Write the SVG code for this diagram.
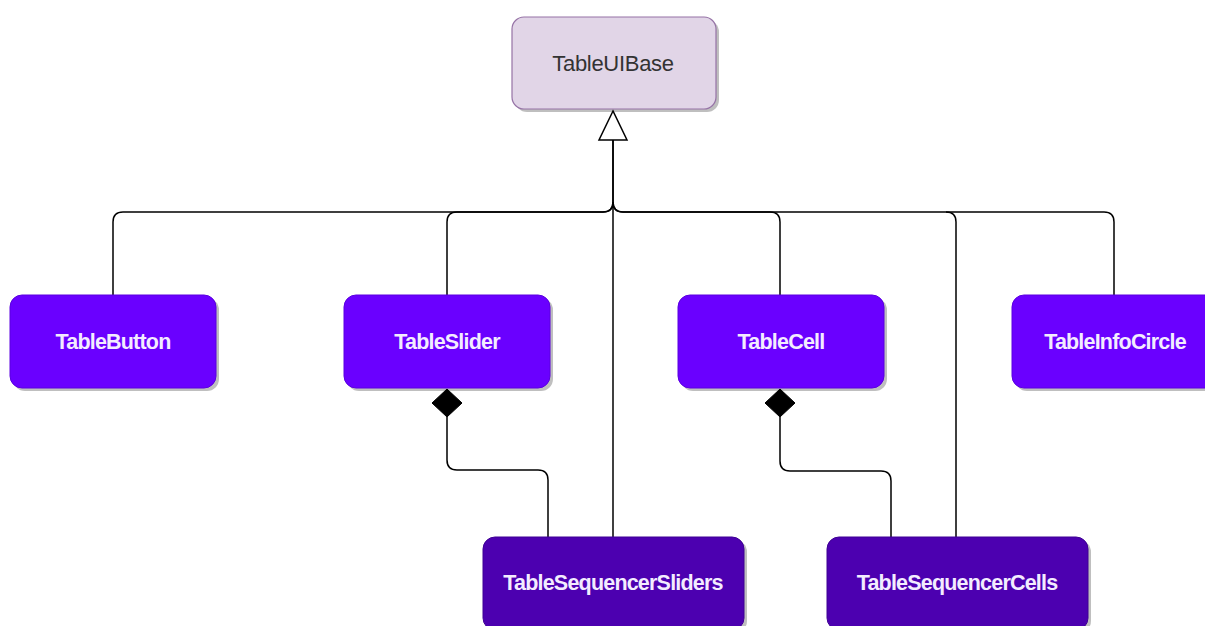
<svg xmlns="http://www.w3.org/2000/svg" width="1205" height="626" viewBox="0 0 1205 626">
<style>
.sh{fill:#000;opacity:0.25}
.base{fill:#e1d5e7;stroke:#9673a6;stroke-width:1.2}
.child{fill:#6a00ff;stroke:#5a00e0;stroke-width:1}
.seq{fill:#4c00b0;stroke:#3f0094;stroke-width:1}
.t{font-family:"Liberation Sans",Arial,sans-serif;text-anchor:middle;dominant-baseline:central}
.tw{fill:#f3ecff;font-weight:bold;font-size:21.5px;letter-spacing:-0.8px}
.tb{fill:#333333;font-size:22px;letter-spacing:-0.3px}
.e{fill:none;stroke:#000;stroke-width:1.5}
</style>
<g id="connectors">
<path class="e" d="M113 295 V222 Q113 212 123 212 H603 Q613 212 613 202 V140"/>
<path class="e" d="M447 295 V222 Q447 212 457 212 H603 Q613 212 613 202"/>
<path class="e" d="M780 295 V222 Q780 212 770 212 H623 Q613 212 613 202"/>
<path class="e" d="M1114 295 V222 Q1114 212 1104 212 H623 Q613 212 613 202"/>
<path class="e" d="M956 537 V222 Q956 212 946 212"/>
<path class="e" d="M613 537 V140"/>
<path class="e" d="M447 417 V460 Q447 470 457 470 H538 Q548 470 548 480 V537"/>
<path class="e" d="M780 417 V461 Q780 471 790 471 H881 Q891 471 891 481 V537"/>
<polygon points="613,111 599,140 627,140" fill="#fff" stroke="#000" stroke-width="1.5"/>
<polygon points="447,389 462,403 447,417 432,403" fill="#000" stroke="#000" stroke-width="1"/>
<polygon points="780,389 795,403 780,417 765,403" fill="#000" stroke="#000" stroke-width="1"/>
</g>
<g id="TableUIBase">
<rect class="sh" x="515" y="20" width="204" height="92" rx="12"/>
<rect class="base" x="512" y="17" width="204" height="92" rx="12"/>
<text class="t tb" x="613" y="63">TableUIBase</text>
</g>
<g id="TableButton">
<rect class="sh" x="13" y="298" width="206" height="93" rx="12"/>
<rect class="child" x="10" y="295" width="206" height="93" rx="12"/>
<text class="t tw" x="113" y="342">TableButton</text>
</g>
<g id="TableSlider">
<rect class="sh" x="347" y="298" width="206" height="93" rx="12"/>
<rect class="child" x="344" y="295" width="206" height="93" rx="12"/>
<text class="t tw" x="447" y="342">TableSlider</text>
</g>
<g id="TableCell">
<rect class="sh" x="681" y="298" width="206" height="93" rx="12"/>
<rect class="child" x="678" y="295" width="206" height="93" rx="12"/>
<text class="t tw" x="781" y="342">TableCell</text>
</g>
<g id="TableInfoCircle">
<rect class="sh" x="1015" y="298" width="206" height="93" rx="12"/>
<rect class="child" x="1012" y="295" width="206" height="93" rx="12"/>
<text class="t tw" x="1115" y="342">TableInfoCircle</text>
</g>
<g id="TableSequencerSliders">
<rect class="sh" x="486" y="540" width="261" height="93" rx="12"/>
<rect class="seq" x="483" y="537" width="261" height="93" rx="12"/>
<text class="t tw" x="613" y="583">TableSequencerSliders</text>
</g>
<g id="TableSequencerCells">
<rect class="sh" x="830" y="540" width="261" height="93" rx="12"/>
<rect class="seq" x="827" y="537" width="261" height="93" rx="12"/>
<text class="t tw" x="957" y="583">TableSequencerCells</text>
</g>
</svg>
